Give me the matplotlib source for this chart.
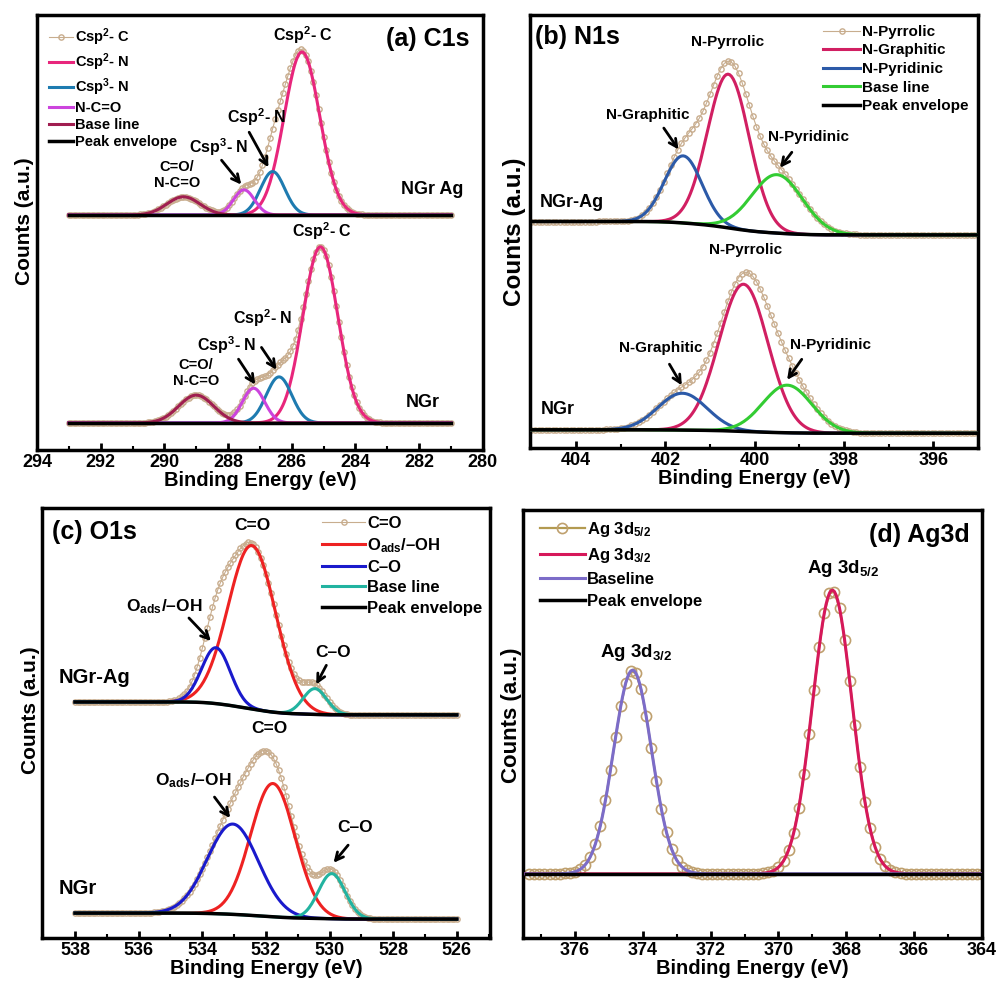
import matplotlib.pyplot as plt
import numpy as np
from matplotlib.ticker import MultipleLocator

# 字体设置
plt.rcParams['font.family'] = ['Liberation Sans', 'DejaVu Sans']
plt.rcParams['font.weight'] = 'bold'
plt.rcParams['mathtext.fontset'] = 'custom'
plt.rcParams['mathtext.rm'] = 'Liberation Sans:bold'
plt.rcParams['mathtext.it'] = 'Liberation Sans:bold'
plt.rcParams['mathtext.bf'] = 'Liberation Sans:bold'
plt.rcParams['mathtext.default'] = 'rm'
plt.rcParams['axes.linewidth'] = 2.5

# ---- fitted peaks: centre (eV), height (a.u.), sigma (eV)
# (a) C1s: Csp2-C, Csp2-N, Csp3-N, C=O/N-C=O
c1s_ag_center = [285.68, 286.6, 287.5, 289.4]
c1s_ag_height = [37.5, 10.0, 5.8, 4.2]
c1s_ag_sigma = [0.56, 0.38, 0.33, 0.52]
c1s_ag_base = [54.0, 54.0]        # high-BE side, low-BE side
c1s_ngr_center = [285.1, 286.4, 287.2, 289.0]
c1s_ngr_height = [40.5, 10.6, 8.0, 6.4]
c1s_ngr_sigma = [0.55, 0.4, 0.35, 0.55]
c1s_ngr_base = [6.2, 6.2]

# (b) N1s: N-Pyrrolic, N-Graphitic, N-Pyridinic
n1s_ag_center = [400.59, 401.6, 399.5]
n1s_ag_height = [35.5, 15.5, 13.5]
n1s_ag_sigma = [0.47, 0.42, 0.57]
n1s_ag_base = [52.3, 49.2]
n1s_ngr_center = [400.25, 401.62, 399.27]
n1s_ngr_height = [34.0, 8.5, 11.0]
n1s_ngr_sigma = [0.55, 0.55, 0.55]
n1s_ngr_base = [4.2, 3.4]

# (c) O1s: C=O, Oads/-OH, C-O
o1s_ag_center = [532.44, 533.57, 530.46]
o1s_ag_height = [38.0, 13.0, 6.0]
o1s_ag_sigma = [0.75, 0.45, 0.37]
o1s_ag_base = [54.9, 51.9]
o1s_ngr_center = [531.78, 533.04, 529.93]
o1s_ngr_height = [31.0, 21.0, 10.5]
o1s_ngr_sigma = [0.7, 0.8, 0.42]
o1s_ngr_base = [5.8, 4.4]

# (d) Ag3d: 3d5/2, 3d3/2
ag_center = [368.41, 374.3]
ag_height = [66.3, 47.6]
ag_sigma = [0.58, 0.56]
ag_base = [15.0, 15.0]

tan = '#C8AD8E'


def draw(ax, x, center, height, sigma, base, colors, step, dot):
    comps = [h * np.exp(-(x - c) ** 2 / (2 * s ** 2)) for c, h, s in zip(center, height, sigma)]
    total = np.sum(comps, axis=0)
    frac = np.cumsum(total) / total.sum()
    bl = base[1] + (base[0] - base[1]) * frac
    hs = [ax.plot(x[::step], (bl + total)[::step], zorder=2, **dot)[0]]
    for c, col in zip(comps, colors):
        hs.append(ax.plot(x, bl + c, color=col, lw=2.2, zorder=3)[0])
    hs.append(ax.plot(x, bl, color='k', lw=2.5, zorder=4)[0])
    return hs


def style(ax, xlim, ylab_x, ylab_y, ylab_size):
    ax.set_xlim(*xlim)
    ax.set_ylim(0, 100)
    ax.set_yticks([])
    ax.xaxis.set_major_locator(MultipleLocator(2))
    ax.xaxis.set_minor_locator(MultipleLocator(1))
    ax.tick_params(axis='x', which='major', direction='in', length=5, width=2,
                   labelsize=13, pad=3)
    ax.tick_params(axis='x', which='minor', direction='in', length=3, width=1.5)
    for t in ax.get_xticklabels():
        t.set_fontweight('bold')
    ax.set_xlabel('Binding Energy (eV)', fontsize=14.5, fontweight='bold', labelpad=0)
    ax.set_ylabel('Counts (a.u.)', fontsize=ylab_size, fontweight='bold')
    ax.yaxis.set_label_coords(ylab_x, ylab_y)


def label(ax, txt, x, y, size, tip=None, tail=None):
    ax.text(x, y, txt, ha='center', va='center', fontsize=size, fontweight='bold', zorder=6)
    if tip is not None:
        ax.annotate('', xy=tip, xytext=tail, zorder=6,
                    arrowprops=dict(arrowstyle='->', lw=2, color='k', mutation_scale=14))


fig = plt.figure(figsize=(10.02, 9.9), dpi=100)
small_dot = dict(color=tan, lw=0.8, marker='o', ms=3.8, mfc='none', mec=tan, mew=1.0)

# ---------------- (a) C1s
ax = fig.add_axes([0.0369, 0.5455, 0.445, 0.4394])
x = np.arange(281.0, 293.001, 0.04)
cols = ['#E8267C', '#1E7BB0', '#CC44DD', '#A01E50']
h = draw(ax, x, c1s_ag_center, c1s_ag_height, c1s_ag_sigma, c1s_ag_base, cols, 2, small_dot)
draw(ax, x, c1s_ngr_center, c1s_ngr_height, c1s_ngr_sigma, c1s_ngr_base, cols, 2, small_dot)
style(ax, (294, 280), -0.006, 0.525, 15)
ax.legend(h, ['Csp$^2$- C', 'Csp$^2$- N', 'Csp$^3$- N', 'N-C=O', 'Base line', 'Peak envelope'],
          loc='upper left', frameon=False, fontsize=10.5, handlelength=1.7, handletextpad=0.1,
          labelspacing=0.22, borderaxespad=0.4, numpoints=1)
ax.text(0.971, 0.945, '(a) C1s', transform=ax.transAxes, ha='right', va='center',
        fontsize=18, fontweight='bold')
label(ax, 'Csp$^2$- C', 285.65, 95.4, 11.5)
label(ax, 'Csp$^2$- N', 287.1, 76.6, 11.5, (286.69, 64.4), (287.38, 73.6))
label(ax, 'Csp$^3$- N', 288.3, 69.7, 11.5, (287.53, 60.5), (288.26, 67.1))
label(ax, 'C=O/\nN-C=O', 289.6, 63.2, 10.5)
label(ax, 'NGr Ag', 281.6, 59.8, 13)
label(ax, 'Csp$^2$- C', 285.05, 50.2, 11.5)
label(ax, 'Csp$^2$- N', 286.9, 30.3, 11.5, (286.43, 17.9), (287.0, 24.1))
label(ax, 'Csp$^3$- N', 288.05, 24.1, 11.5, (287.1, 14.5), (287.72, 21.4))
label(ax, 'C=O/\nN-C=O', 289.0, 17.7, 10.5)
label(ax, 'NGr', 281.9, 11.0, 13)

# ---------------- (b) N1s
ax = fig.add_axes([0.529, 0.5475, 0.447, 0.4374])
x = np.arange(395.0, 405.001, 0.04)
cols = ['#D11F62', '#2C5AA8', '#33CC33']
h = draw(ax, x, n1s_ag_center, n1s_ag_height, n1s_ag_sigma, n1s_ag_base, cols, 2, small_dot)
draw(ax, x, n1s_ngr_center, n1s_ngr_height, n1s_ngr_sigma, n1s_ngr_base, cols, 2, small_dot)
style(ax, (405.03, 395.0), -0.008, 0.5, 17.5)
ax.legend(h, ['N-Pyrrolic', 'N-Graphitic', 'N-Pyridinic', 'Base line', 'Peak envelope'],
          loc='upper right', frameon=False, fontsize=11, handlelength=2.4, handletextpad=0.1,
          labelspacing=0.3, borderaxespad=0.25, numpoints=1)
ax.text(0.011, 0.949, '(b) N1s', transform=ax.transAxes, ha='left', va='center',
        fontsize=18, fontweight='bold')
label(ax, 'N-Pyrrolic', 400.6, 93.8, 11)
label(ax, 'N-Graphitic', 402.4, 76.9, 11, (401.67, 68.4), (402.07, 74.4))
label(ax, 'N-Pyridinic', 398.8, 71.8, 11, (399.47, 64.2), (399.13, 68.8))
label(ax, 'NGr-Ag', 404.1, 56.8, 13)
label(ax, 'N-Pyrrolic', 400.2, 45.7, 11)
label(ax, 'N-Graphitic', 402.1, 23.1, 11, (401.6, 13.9), (401.94, 19.9))
label(ax, 'N-Pyridinic', 398.3, 23.8, 11, (399.31, 15.2), (398.91, 21.0))
label(ax, 'NGr', 404.4, 8.8, 13)

# ---------------- (c) O1s
ax = fig.add_axes([0.0419, 0.0525, 0.447, 0.4343])
x = np.arange(526.0, 538.001, 0.04)
cols = ['#EE2222', '#1A1ACC', '#22B3A0']
h = draw(ax, x, o1s_ag_center, o1s_ag_height, o1s_ag_sigma, o1s_ag_base, cols, 2, small_dot)
draw(ax, x, o1s_ngr_center, o1s_ngr_height, o1s_ngr_sigma, o1s_ngr_base, cols, 2, small_dot)
style(ax, (539.04, 524.96), -0.004, 0.53, 15)
ax.legend(h, ['C=O', 'O$_{ads}$/–OH', 'C–O', 'Base line', 'Peak envelope'],
          loc='upper right', frameon=False, fontsize=12, handlelength=2.6, handletextpad=0.1,
          labelspacing=0.32, borderaxespad=0.05, numpoints=1)
ax.text(0.022, 0.944, '(c) O1s', transform=ax.transAxes, ha='left', va='center',
        fontsize=18, fontweight='bold')
label(ax, 'C=O', 532.44, 96.0, 12.5)
label(ax, 'O$_{ads}$/–OH', 535.2, 77.0, 12.5, (533.67, 68.6), (534.48, 74.9))
label(ax, 'C–O', 529.9, 66.5, 12.5, (530.46, 58.4), (530.06, 64.0))
label(ax, 'NGr-Ag', 537.4, 60.5, 14.5)
label(ax, 'C=O', 531.9, 48.8, 12.5)
label(ax, 'O$_{ads}$/–OH', 534.3, 36.7, 12.5, (533.07, 27.4), (533.67, 33.3))
label(ax, 'C–O', 529.2, 25.6, 12.5, (529.93, 17.0), (529.36, 22.1))
label(ax, 'NGr', 537.9, 11.6, 14.5)

# ---------------- (d) Ag3d
ax = fig.add_axes([0.522, 0.0525, 0.458, 0.4323])
x = np.arange(364.0, 377.5, 0.05)
cols = ['#D6185A', '#7C6CC8']
big_dot = dict(color='#B39A50', lw=1.6, marker='o', ms=7.3, mfc='none', mec='#BFA06E', mew=1.2)
h = draw(ax, x, ag_center, ag_height, ag_sigma, ag_base, cols, 3, big_dot)
style(ax, (377.53, 364.0), -0.003, 0.52, 16)
ax.legend(h, ['Ag 3d$_{5/2}$', 'Ag 3d$_{3/2}$', 'Baseline', 'Peak envelope'],
          loc='upper left', bbox_to_anchor=(0.015, 1.0), frameon=False, fontsize=12,
          handlelength=2.7, handletextpad=0.1, labelspacing=0.42, borderaxespad=0.2,
          numpoints=1)
ax.text(0.974, 0.942, '(d) Ag3d', transform=ax.transAxes, ha='right', va='center',
        fontsize=18, fontweight='bold')
label(ax, 'Ag 3d$_{5/2}$', 368.1, 86.4, 13.5)
label(ax, 'Ag 3d$_{3/2}$', 374.2, 66.6, 13.5)

plt.savefig('out.png', dpi=100)
